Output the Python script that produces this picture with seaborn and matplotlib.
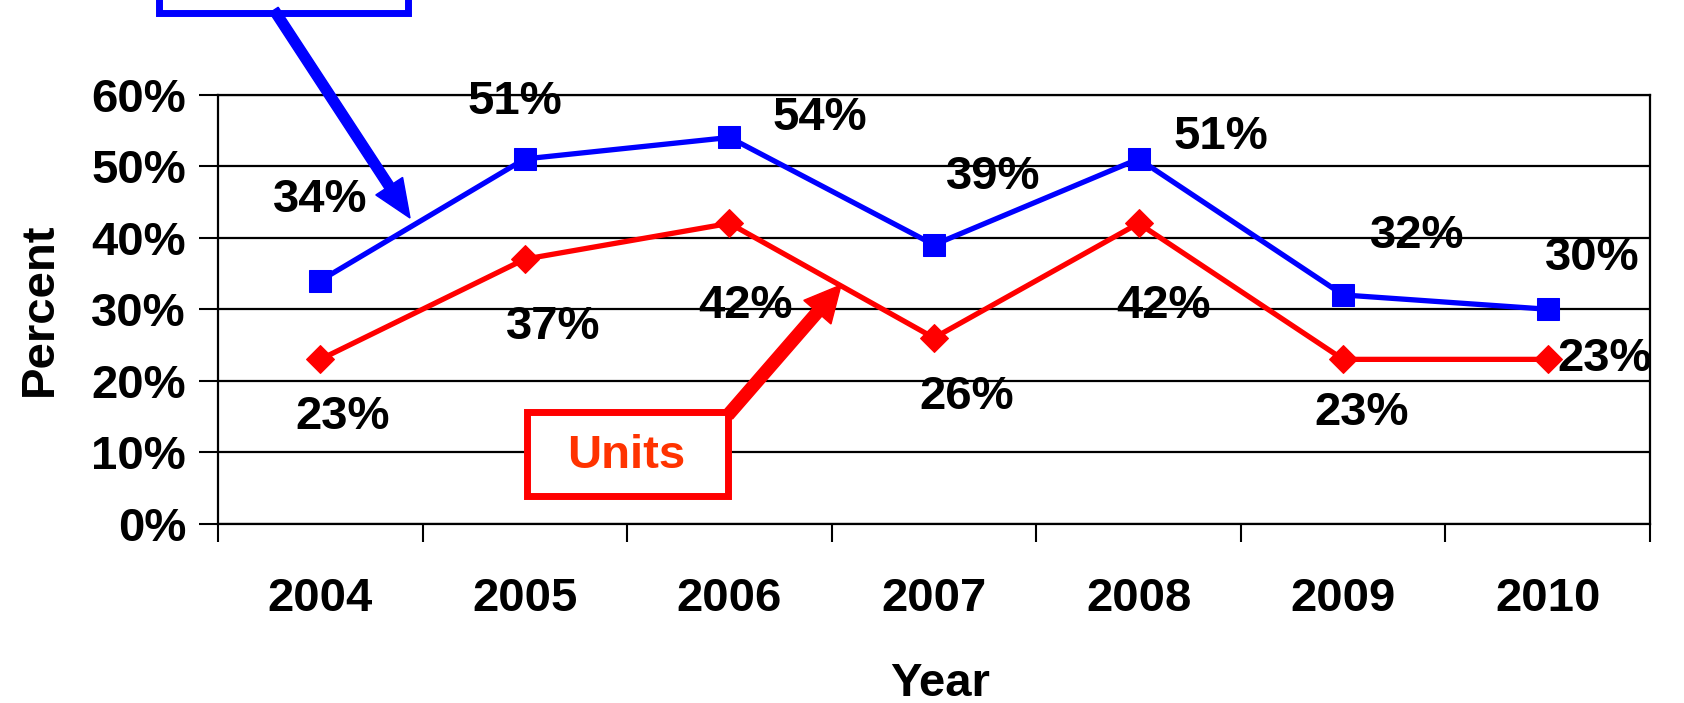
import pandas as pd
import seaborn as sns
import matplotlib
matplotlib.use("Agg")
import matplotlib.pyplot as plt
from matplotlib.patches import Rectangle, FancyArrow
from matplotlib.transforms import IdentityTransform

# data
years = ["2004", "2005", "2006", "2007", "2008", "2009", "2010"]
blue_vals = [34, 51, 54, 39, 51, 32, 30]
units_vals = [23, 37, 42, 26, 42, 23, 23]

# where each data label sits (category index, percent)
blue_lab_x = [0.0, 0.95, 2.44, 3.29, 4.40, 5.36, 6.22]
blue_lab_y = [45.3, 59.0, 56.7, 48.5, 54.0, 40.2, 37.2]
units_lab_x = [0.11, 1.14, 2.08, 3.16, 4.12, 5.09, 6.28]
units_lab_y = [15.0, 27.5, 30.5, 17.7, 30.5, 15.5, 23.0]

y_ticks = [0, 10, 20, 30, 40, 50, 60]

sns.set_style("white")
plt.rcParams["font.family"] = ["Liberation Sans", "DejaVu Sans"]
plt.rcParams["font.weight"] = "bold"
for k in ["text.color", "axes.labelcolor", "xtick.color", "ytick.color"]:
    plt.rcParams[k] = "black"

W, H = 1684, 703
fig = plt.figure(figsize=(W / 100, H / 100), dpi=100)
ax = fig.add_axes([218 / W, 1 - 524 / H, (1650 - 218) / W, (524 - 94.5) / H])

df = pd.DataFrame({"Year": years, "blue": blue_vals, "units": units_vals})

sns.lineplot(data=df, x="Year", y="blue", sort=False, color="#0000FF",
             linewidth=3.8, marker="s", markersize=16, markeredgecolor="#0000FF",
             ax=ax, zorder=5)
sns.lineplot(data=df, x="Year", y="units", sort=False, color="#FF0000",
             linewidth=3.8, marker="D", markersize=14, markeredgecolor="#FF0000",
             ax=ax, zorder=5)

fs = 34
for v, lx, ly in zip(blue_vals, blue_lab_x, blue_lab_y):
    ax.text(lx, ly, f"{v}%", ha="center", va="center", fontsize=fs,
            fontweight="bold", clip_on=False, zorder=6)
for v, lx, ly in zip(units_vals, units_lab_x, units_lab_y):
    ax.text(lx, ly, f"{v}%", ha="center", va="center", fontsize=fs,
            fontweight="bold", clip_on=False, zorder=6)

ax.set_xlim(-0.5, 6.5)
ax.set_ylim(0, 60)
ax.set_yticks(y_ticks)
ax.set_yticklabels([f"{t}%" for t in y_ticks], fontsize=fs, fontweight="bold")
ax.set_xticks(range(len(years)))
ax.set_xticklabels(years, fontsize=fs, fontweight="bold")
ax.set_xticks([i - 0.5 for i in range(len(years) + 1)], minor=True)
ax.tick_params(axis="x", which="major", length=0, pad=38, bottom=True)
ax.tick_params(axis="x", which="minor", length=13, width=1.5, direction="out",
               color="black", bottom=True)
ax.tick_params(axis="y", which="major", length=14, width=1.5, direction="out",
               pad=9, color="black", left=True)
ax.yaxis.grid(True, color="black", linewidth=1.6)
ax.set_axisbelow(True)
for s in ax.spines.values():
    s.set_color("black")
    s.set_linewidth(1.6)

ax.set_ylabel("Percent", fontsize=fs, fontweight="bold")
ax.yaxis.set_label_coords(-0.109, 0.5)
ax.set_xlabel("Year", fontsize=fs, fontweight="bold")
ax.xaxis.set_label_coords(0.504, -0.322)

# call-out boxes and arrows, in figure pixels (y from top)
ident = IdentityTransform()

def box(x0, y0, x1, y1, color):
    r = Rectangle((x0, H - y1), x1 - x0, y1 - y0, transform=ident,
                  facecolor="white", edgecolor=color, linewidth=5, zorder=7)
    fig.add_artist(r)

def arrow(x0, y0, x1, y1, color, w, hw, hl):
    a = FancyArrow(x0, H - y0, x1 - x0, -(y1 - y0), width=w, head_width=hw,
                   head_length=hl, length_includes_head=True, transform=ident,
                   color=color, zorder=8)
    fig.add_artist(a)

box(159, -30, 408, 12.5, "#0000FF")
arrow(274, 10, 410, 218, "#0000FF", 10, 32, 38)

box(527, 412, 728, 496, "#FF0000")
arrow(728, 415, 841, 285, "#FF0000", 12, 36, 36)
fig.text(626 / W, 1 - 456 / H, "Units", ha="center", va="center",
         fontsize=fs, fontweight="bold", color="#FF3300", zorder=9)

fig.savefig("out.png", dpi=100)
